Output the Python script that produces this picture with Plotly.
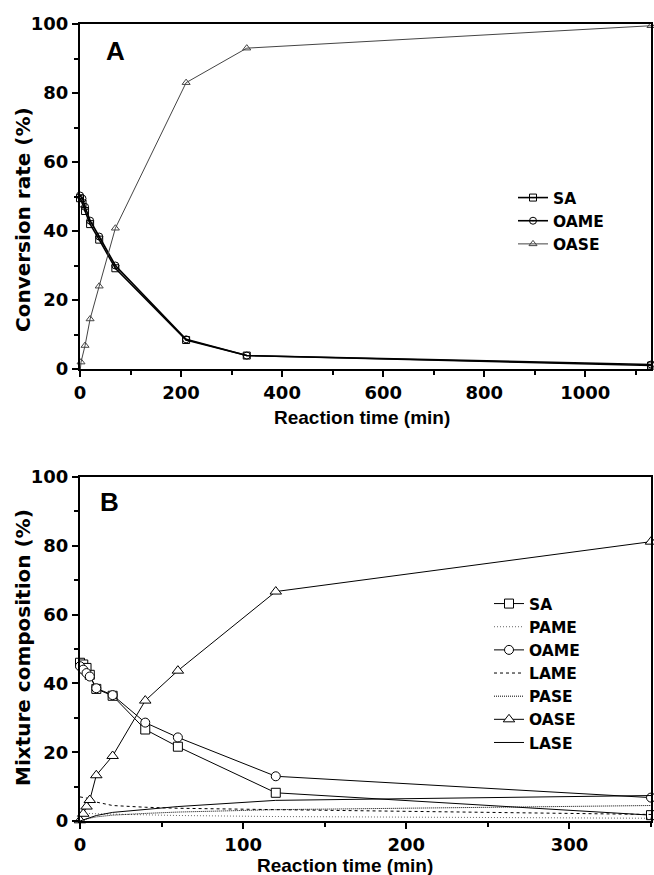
import plotly.graph_objects as go

W, H = 654, 875

# ---------------- Panel A data ----------------
a_time = [0, 5, 10, 20, 38, 70, 210, 330, 1130]
a_sa = [49.5, 48.0, 45.8, 42.0, 37.5, 29.2, 8.4, 3.9, 1.0]
a_oame = [50.3, 49.4, 47.0, 43.0, 38.4, 30.0, 8.6, 3.9, 1.3]
a_time_oase = [0, 2, 10, 20, 38, 70, 210, 330, 1130]
a_oase = [-1.2, 2.0, 6.8, 14.5, 24.0, 40.8, 83.0, 93.0, 99.5]

# ---------------- Panel B data ----------------
b_time = [0, 2, 4, 6, 10, 20, 40, 60, 120, 350]
b_sa = [46.0, 45.5, 44.5, 42.5, 38.4, 36.4, 26.6, 21.6, 8.2, 1.7]
b_pame = [2.3, 2.3, 2.2, 2.2, 2.1, 2.0, 1.8, 1.6, 1.3, 0.8]
b_oame = [45.0, 44.0, 43.0, 42.0, 38.6, 36.6, 28.6, 24.3, 13.0, 6.8]
b_lame = [7.0, 6.9, 6.7, 6.5, 5.5, 4.5, 4.0, 3.7, 3.3, 1.9]
b_pase = [0.0, 0.3, 0.6, 0.8, 1.2, 1.7, 2.2, 2.6, 3.3, 4.5]
b_oase = [0.2, 2.1, 4.2, 6.1, 13.3, 18.9, 35.0, 43.7, 66.7, 81.2]
b_lase = [0.0, 0.3, 0.7, 1.0, 1.6, 2.5, 3.4, 4.2, 6.0, 7.4]

a_xticks = [0, 200, 400, 600, 800, 1000]
b_xticks = [0, 100, 200, 300]
y_ticks = [0, 20, 40, 60, 80, 100]

TICKFONT = dict(family="DejaVu Sans", size=18, color="black", weight="bold")
TITLEFONT = dict(family="Liberation Sans", size=19, color="black", weight="bold")
LEGFONT = dict(family="DejaVu Sans", size=15.5, color="black", weight="bold")

# plot-area geometry (page pixels)
A_TOP, A_BOT, B_TOP, B_BOT = 24, 369, 477, 821
X_LEFT, X_RIGHT = 80, 651
ML, MR = X_LEFT, W - X_RIGHT
MT, MB = A_TOP, H - B_BOT
PW, PH = W - ML - MR, H - MT - MB


def dom_y(top, bot):
    return [(H - MB - bot) / PH, (H - MB - top) / PH]


def cont_x(p):
    return p / W


def cont_y(p):
    return 1 - p / H


fig = go.Figure()

# Panel A traces
fig.add_trace(go.Scatter(x=a_time, y=a_sa, name="SA", mode="lines+markers",
                         line=dict(color="black", width=1.6),
                         marker=dict(symbol="square-open-dot", size=7, color="black",
                                     line=dict(width=1)),
                         cliponaxis=False, xaxis="x", yaxis="y", legend="legend"))
fig.add_trace(go.Scatter(x=a_time, y=a_oame, name="OAME", mode="lines+markers",
                         line=dict(color="black", width=1.6),
                         marker=dict(symbol="circle-open-dot", size=7, color="black",
                                     line=dict(width=1)),
                         cliponaxis=False, xaxis="x", yaxis="y", legend="legend"))
fig.add_trace(go.Scatter(x=a_time_oase, y=a_oase, name="OASE", mode="lines+markers",
                         line=dict(color="#444444", width=1),
                         marker=dict(symbol="triangle-up-open", size=7, color="#444444",
                                     line=dict(width=1)),
                         cliponaxis=False, xaxis="x", yaxis="y", legend="legend"))

# Panel B traces
mk = dict(size=9, color="white", line=dict(color="black", width=1))
fig.add_trace(go.Scatter(x=b_time, y=b_sa, name="SA", mode="lines+markers",
                         line=dict(color="black", width=1),
                         marker=dict(symbol="square", **mk),
                         cliponaxis=False, xaxis="x2", yaxis="y2", legend="legend2"))
fig.add_trace(go.Scatter(x=b_time, y=b_pame, name="PAME", mode="lines",
                         line=dict(color="#666666", width=1, dash="1px,2px"),
                         xaxis="x2", yaxis="y2", legend="legend2"))
fig.add_trace(go.Scatter(x=b_time, y=b_oame, name="OAME", mode="lines+markers",
                         line=dict(color="black", width=1),
                         marker=dict(symbol="circle", **mk),
                         cliponaxis=False, xaxis="x2", yaxis="y2", legend="legend2"))
fig.add_trace(go.Scatter(x=b_time, y=b_lame, name="LAME", mode="lines",
                         line=dict(color="black", width=1, dash="3px,3px"),
                         xaxis="x2", yaxis="y2", legend="legend2"))
fig.add_trace(go.Scatter(x=b_time, y=b_pase, name="PASE", mode="lines",
                         line=dict(color="black", width=1, dash="1px,1px"),
                         xaxis="x2", yaxis="y2", legend="legend2"))
fig.add_trace(go.Scatter(x=b_time, y=b_oase, name="OASE", mode="lines+markers",
                         line=dict(color="black", width=1),
                         marker=dict(symbol="triangle-up", size=10, color="white",
                                     line=dict(color="black", width=1)),
                         cliponaxis=False, xaxis="x2", yaxis="y2", legend="legend2"))
fig.add_trace(go.Scatter(x=b_time, y=b_lase, name="LASE", mode="lines",
                         line=dict(color="black", width=1),
                         xaxis="x2", yaxis="y2", legend="legend2"))

axis_common = dict(showline=True, linecolor="black", linewidth=2, mirror=True,
                   ticks="outside", ticklen=6, tickwidth=1.5, tickcolor="black",
                   showgrid=False, zeroline=False, tickfont=TICKFONT, automargin=False)

fig.update_layout(
    width=W, height=H, autosize=False,
    margin=dict(l=ML, r=MR, t=MT, b=MB, pad=0, autoexpand=False),
    paper_bgcolor="white", plot_bgcolor="white",
    xaxis=dict(domain=[0, 1], range=[0, 1130], tickvals=a_xticks, anchor="y",
               minor=dict(dtick=100, tick0=0, ticks="outside", ticklen=4, tickcolor="black"),
               **axis_common),
    yaxis=dict(domain=dom_y(A_TOP, A_BOT), range=[0, 100], tickvals=y_ticks, anchor="x",
               minor=dict(dtick=10, tick0=0, ticks="outside", ticklen=4, tickcolor="black"),
               **axis_common),
    xaxis2=dict(domain=[0, 1], range=[0, 350], tickvals=b_xticks, anchor="y2",
                minor=dict(dtick=50, tick0=0, ticks="outside", ticklen=4, tickcolor="black"),
                **axis_common),
    yaxis2=dict(domain=dom_y(B_TOP, B_BOT), range=[0, 100], tickvals=y_ticks, anchor="x2",
                minor=dict(dtick=10, tick0=0, ticks="outside", ticklen=4, tickcolor="black"),
                **axis_common),
    legend=dict(x=cont_x(513), y=cont_y(181), xref="container", yref="container",
                xanchor="left", yanchor="top",
                font=LEGFONT, bgcolor="rgba(0,0,0,0)", tracegroupgap=0),
    legend2=dict(x=cont_x(489), y=cont_y(587), xref="container", yref="container",
                 xanchor="left", yanchor="top",
                 font=LEGFONT, bgcolor="rgba(0,0,0,0)", tracegroupgap=0),
    showlegend=True,
)

LETTER = dict(family="Liberation Sans", size=26, color="black", weight="bold")
YTITLE = dict(family="DejaVu Sans", size=20, color="black", weight="bold")
annotations = [
    dict(text="A", x=115, y=51, font=LETTER),
    dict(text="B", x=109, y=502, font=LETTER),
    dict(text="Reaction time (min)", x=362, y=417, font=TITLEFONT),
    dict(text="Reaction time (min)", x=345, y=865, font=TITLEFONT),
    dict(text="Conversion rate (%)", x=23, y=220, textangle=-90, font=YTITLE),
    dict(text="Mixture composition (%)", x=23, y=648, textangle=-90, font=YTITLE),
]
for a in annotations:
    a.update(xref="paper", yref="paper", showarrow=False, xanchor="center", yanchor="middle")
    a["x"] = (a["x"] - ML) / PW
    a["y"] = (H - a["y"] - MB) / PH
fig.update_layout(annotations=annotations)

fig.write_html(
    "out.html",
    config={"displayModeBar": False},
    post_script="document.body.style.margin='0';document.body.style.overflow='hidden';",
)
